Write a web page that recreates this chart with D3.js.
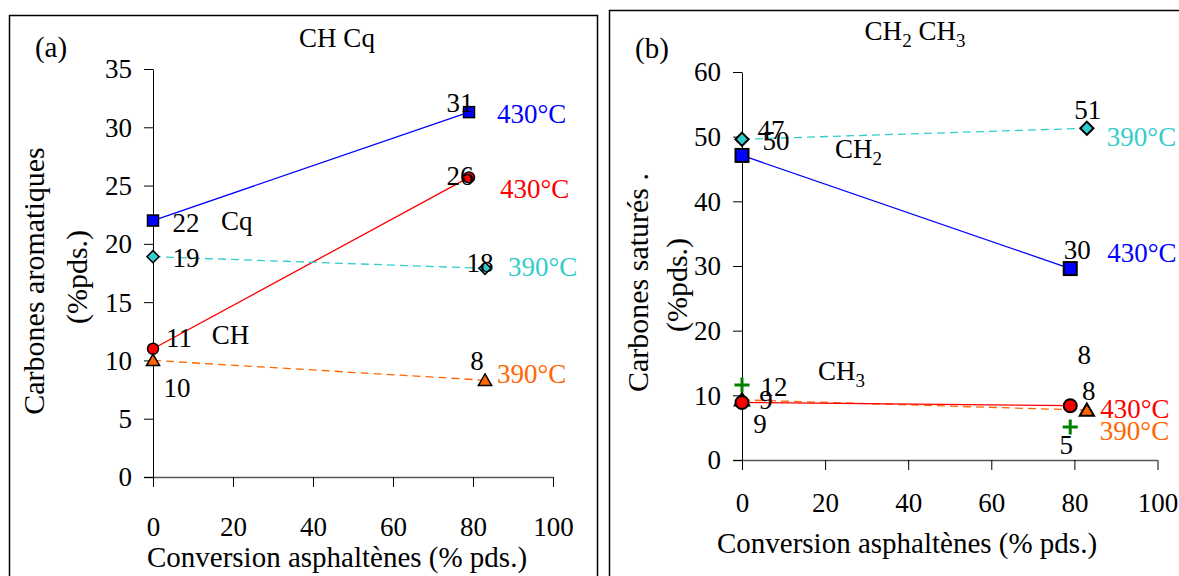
<!DOCTYPE html>
<html><head><meta charset="utf-8">
<script src="https://cdn.jsdelivr.net/npm/d3@7"></script>
<style>
body{margin:0;background:#fff}
</style>
</head><body>
<svg id="chart" width="1179" height="576"></svg>
<script>
// ---------------- DATA ----------------
const xTicks = [0, 20, 40, 60, 80, 100];
const yTicksA = [0, 5, 10, 15, 20, 25, 30, 35];
const yTicksB = [0, 10, 20, 30, 40, 50, 60];

// Panel (a) : carbones aromatiques
const convA430 = [0, 79];
const convA390 = [0, 83];
const cq430 = [22, 31.3];
const ch430 = [11, 25.7];
const cq390 = [18.9, 17.9];
const ch390 = [10, 8.3];

// Panel (b) : carbones saturés
const convB430 = [0, 79];
const convB390 = [0, 83];
const ch2_430 = [47.1, 29.6];
const ch2_390 = [49.6, 51.3];
const ch3_430 = [8.9, 8.4];
const ch3_390 = [9.3, 7.7];
const ch3_plus = [11.6, 5.1];

const temps = ["430°C", "390°C"];
const panelTitles = ["CH Cq", "CH2 CH3"];
const panelLetters = ["(a)", "(b)"];
const yTitlesA = ["Carbones aromatiques", "(%pds.)"];
const yTitlesB = ["Carbones saturés .", "(%pds.)"];
const xTitle = "Conversion asphaltènes (% pds.)";

// ---------------- STYLE / LAYOUT ----------------
const FONT = 27;
const FF = "'Liberation Serif'";
const C = {blue:"#0000FF", red:"#FF0000", cyan:"#33CCCC", orange:"#FF6600", green:"#008000"};
const svg = d3.select("#chart");
svg.append("rect").attr("width",1179).attr("height",576).attr("fill","#fff");

const fmt = d3.format(".0f");

function T(g){ return g.append("text").style("font-family",FF).style("fill","#000"); }

function marker(g, type, cx, cy, s, fill, sw){
  if(type==="square"){
    g.append("rect").attr("x",cx-s/2).attr("y",cy-s/2).attr("width",s).attr("height",s)
      .attr("fill",fill).attr("stroke","#000").attr("stroke-width",sw);
  } else if(type==="diamond"){
    const h=s/2*1.1;
    g.append("path").attr("d",`M${cx},${cy-h}L${cx+h},${cy}L${cx},${cy+h}L${cx-h},${cy}Z`)
      .attr("fill",fill).attr("stroke","#000").attr("stroke-width",sw);
  } else if(type==="circle"){
    g.append("circle").attr("cx",cx).attr("cy",cy).attr("r",s/2)
      .attr("fill",fill).attr("stroke","#000").attr("stroke-width",sw);
  } else if(type==="triangle"){
    const w=s*1.1, h=s*0.95;
    g.append("path").attr("d",`M${cx},${cy-h*0.55}L${cx+w/2},${cy+h*0.45}L${cx-w/2},${cy+h*0.45}Z`)
      .attr("fill",fill).attr("stroke","#000").attr("stroke-width",sw);
  } else if(type==="plus"){
    g.append("path").attr("d",`M${cx-s/2},${cy}H${cx+s/2}M${cx},${cy-s/2}V${cy+s/2}`)
      .attr("fill","none").attr("stroke",fill).attr("stroke-width",3);
  }
}

function subText(g, x, y, parts, anchor){
  const t = T(g).attr("x",x).attr("y",y).attr("font-size",FONT)
    .attr("text-anchor",anchor||"start").attr("dy","0.35em");
  parts.forEach(p=>{
    if(p.sub){
      t.append("tspan").text(p.t).attr("font-size",19).attr("dy",7);
    } else {
      t.append("tspan").text(p.t).attr("dy", p.up ? -7 : 0);
    }
  });
  return t;
}

function drawPanel(cfg){
  const g = svg.append("g");
  g.append("rect").attr("x",cfg.box[0]).attr("y",cfg.box[1]).attr("width",cfg.box[2]).attr("height",cfg.box[3])
    .attr("fill","none").attr("stroke","#000").attr("stroke-width",1.5);

  const x = d3.scaleLinear().domain([0,100]).range(cfg.xr);
  const y = d3.scaleLinear().domain([0,d3.max(cfg.yTicks)]).range(cfg.yr);

  const ax = g.append("g").attr("transform",`translate(0,${cfg.yr[0]})`)
    .call(d3.axisBottom(x).tickValues(xTicks).tickSize(10).tickSizeOuter(0).tickFormat(d3.format("d")));
  ax.select(".domain").attr("d",`M${cfg.xr[0]-9},0.5H${cfg.xr[1]}`).attr("stroke","#555").attr("stroke-width",1.5);
  ax.selectAll(".tick line").attr("stroke","#000");
  ax.selectAll(".tick text").attr("font-size",FONT).style("font-family",FF)
    .attr("fill","#000").attr("y",cfg.xLabOff).attr("dy","0.35em");

  const ay = g.append("g").attr("transform",`translate(${cfg.xr[0]},0)`)
    .call(d3.axisLeft(y).tickValues(cfg.yTicks).tickSize(9).tickPadding(12).tickSizeOuter(0).tickFormat(d3.format("d")));
  ay.select(".domain").attr("stroke","#000");
  ay.selectAll(".tick line").attr("stroke","#000");
  ay.selectAll(".tick text").attr("font-size",FONT).style("font-family",FF)
    .attr("fill","#000").attr("dy","0.33em");

  T(g).attr("x",cfg.xTitlePos[0]).attr("y",cfg.xTitlePos[1]).attr("dy","0.35em")
    .attr("text-anchor","middle").attr("font-size",29).text(xTitle);
  cfg.yTitles.forEach((t,i)=>{
    T(g).attr("transform",`translate(${cfg.yTitlePos[i][0]},${cfg.yTitlePos[i][1]}) rotate(-90)`)
      .attr("dy","0.35em").attr("text-anchor","middle").attr("font-size",30).text(t);
  });

  T(g).attr("x",cfg.letterPos[0]).attr("y",cfg.letterPos[1]).attr("dy","0.35em")
    .attr("text-anchor","middle").attr("font-size",29).text(cfg.letter);
  subText(g, cfg.titlePos[0], cfg.titlePos[1], cfg.titleParts, "middle");

  cfg.series.forEach(s=>{
    if(!s.line) return;
    const pts = s.x.map((v,i)=>[x(v), y(s.y[i])]);
    g.append("path").attr("d",d3.line()(pts)).attr("fill","none").attr("stroke",s.color)
      .attr("stroke-width",1.3).attr("stroke-dasharray",s.dash||null);
  });
  cfg.series.forEach(s=>{
    s.x.forEach((v,i)=>marker(g, s.marker, x(v), y(s.y[i]), s.size, s.fill||s.color, cfg.msw));
  });
  cfg.series.forEach(s=>{
    s.x.forEach((v,i)=>{
      const o = s.valOff[i];
      T(g).attr("x",x(v)+o[0]).attr("y",y(s.y[i])+o[1]).attr("dy","0.35em")
        .attr("text-anchor","middle").attr("font-size",FONT).text(fmt(s.y[i]));
    });
    if(s.temp){
      const n = s.x.length-1;
      T(g).attr("x",x(s.x[n])+s.tempOff[0]).attr("y",y(s.y[n])+s.tempOff[1]).attr("dy","0.35em")
        .attr("text-anchor","start").attr("font-size",FONT).style("fill",s.color).text(s.temp);
    }
  });
  cfg.notes.forEach(n=>subText(g, x(n.x), y(n.y), n.parts, "start"));
}

drawPanel({
  box:[9.5,15.5,588,620],
  xr:[153,553], yr:[477,69], yTicks:yTicksA, xLabOff:50,
  xTitlePos:[337,557], yTitles:yTitlesA, yTitlePos:[[33,281],[76,277]],
  letter:panelLetters[0], letterPos:[51,47],
  titleParts:[{t:panelTitles[0]}], titlePos:[337,47],
  msw:1.5,
  series:[
    {x:convA430, y:cq430, color:C.blue, marker:"square", size:11, line:true, temp:temps[0], valOff:[[33,2],[-9,-10]], tempOff:[28,1]},
    {x:convA430, y:ch430, color:C.red, marker:"circle", size:11, line:true, temp:temps[0], valOff:[[26,-11],[-9,-2]], tempOff:[31,11]},
    {x:convA390, y:cq390, color:C.cyan, marker:"diamond", size:11, line:true, dash:"8,5", temp:temps[1], valOff:[[33,1],[-5,-6]], tempOff:[23,-2]},
    {x:convA390, y:ch390, color:C.orange, marker:"triangle", size:12, line:true, dash:"8,5", temp:temps[1], valOff:[[24,27],[-8,-20]], tempOff:[12,-7]}
  ],
  notes:[
    {x:17, y:21.2, parts:[{t:"Cq"}]},
    {x:14.7, y:11.4, parts:[{t:"CH"}]}
  ]
});

drawPanel({
  box:[609.5,10.5,620,620],
  xr:[742,1157.5], yr:[460,72], yTicks:yTicksB, xLabOff:43,
  xTitlePos:[907,543], yTitles:yTitlesB, yTitlePos:[[637.5,282.5],[676,285]],
  letter:panelLetters[1], letterPos:[652,48],
  titleParts:[{t:"CH"},{t:"2",sub:true},{t:" CH",up:true},{t:"3",sub:true}], titlePos:[915,40],
  msw:2,
  series:[
    {x:convB430, y:ch2_430, color:C.blue, marker:"square", size:13, line:true, temp:temps[0], valOff:[[29,-26],[7,-19.5]], tempOff:[37,-16.5]},
    {x:convB390, y:ch2_390, color:C.cyan, marker:"diamond", size:12, line:true, dash:"8,5", temp:temps[1], valOff:[[34,1],[1,-19]], tempOff:[20,8.5]},
    {x:convB390, y:ch3_390, color:C.orange, marker:"triangle", size:13, line:true, dash:"8,5", temp:temps[1], valOff:[[18,24],[2,-20]], tempOff:[13,20]},
    {x:convB430, y:ch3_430, color:C.red, marker:"circle", size:13, line:true, temp:temps[0], valOff:[[24,-3],[14,-51]], tempOff:[30,3]},
    {x:convB430, y:ch3_plus, color:C.green, marker:"plus", size:15, line:false, temp:null, valOff:[[32,2],[-4,18]]}
  ],
  notes:[
    {x:22.4, y:46.7, parts:[{t:"CH"},{t:"2",sub:true}]},
    {x:18.3, y:12.4, parts:[{t:"CH"},{t:"3",sub:true}]}
  ]
});
</script>
</body></html>
